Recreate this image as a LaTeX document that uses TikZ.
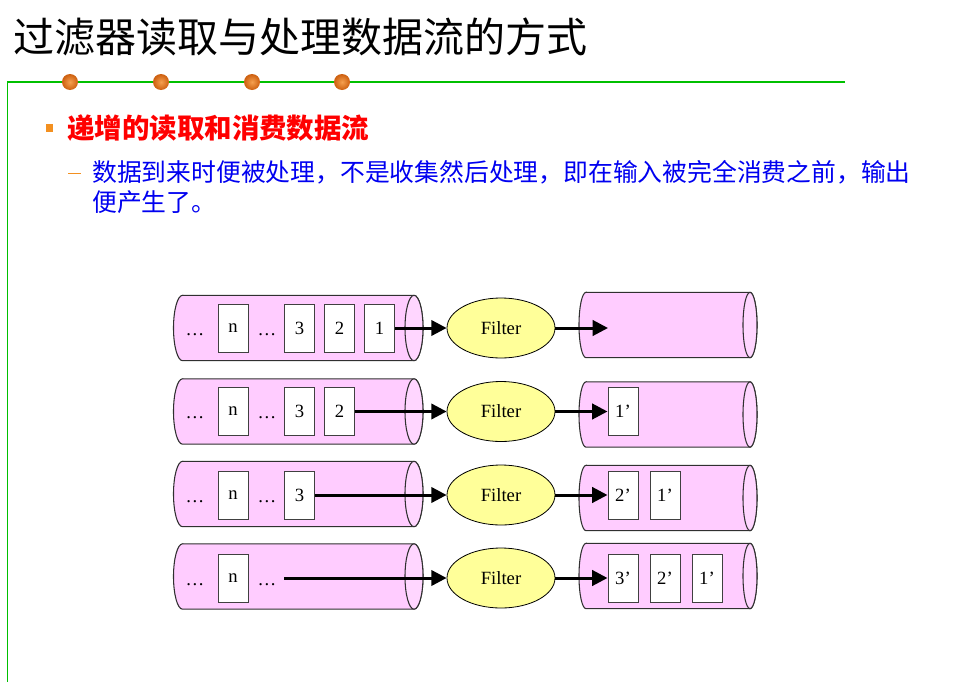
\documentclass[tikz,border=0pt]{standalone}
\usepackage{fontspec}
\setmainfont{Liberation Serif}
\newfontfamily\cjk{Noto Sans CJK SC}
\usetikzlibrary{shapes.geometric,arrows.meta,calc}
\definecolor{pinkc}{HTML}{FFCCFF}
\definecolor{pinkend}{HTML}{FFD6FF}
\definecolor{yellowc}{HTML}{FFFF99}
\definecolor{greenc}{HTML}{00C000}
\definecolor{orangec}{HTML}{F39020}
\definecolor{bluec}{HTML}{0000F0}
\definecolor{cylline}{HTML}{303030}
\definecolor{boxline}{HTML}{404040}
% left-end centre, right-end centre, centre y, x radius (pt), y radius (pt)
\newcommand\mycyl[5]{%
  \path[cyl] (#1,#3) ++(0,-#5*4/3) -- ($(#2,#3)+(0,-#5*4/3)$)
     arc[start angle=90,end angle=-90,x radius=#4pt,y radius=#5pt]
     -- ($(#1,#3)+(0,#5*4/3)$)
     arc[start angle=270,end angle=90,x radius=#4pt,y radius=#5pt] -- cycle;
  \path[cyl,fill=pinkend] (#2,#3) ellipse[x radius=#4pt,y radius=#5pt];}
\begin{document}
\begin{tikzpicture}[x=0.75pt,y=-0.75pt,
  cyl/.style={fill=pinkc,draw=cylline,line width=0.8pt},
  box/.style={draw=boxline,fill=white,line width=0.75pt,minimum width=22.5pt,
    minimum height=36pt,inner sep=0pt,font=\fontsize{14}{14}\selectfont},
  dots/.style={anchor=base,inner sep=0pt,font=\fontsize{14}{14}\selectfont},
  filt/.style={ellipse,draw=black,fill=yellowc,line width=0.6pt,minimum width=81pt,
    minimum height=45pt,inner sep=0pt,font=\fontsize{14}{14}\selectfont},
  flow/.style={line width=2.25pt,-{Triangle[length=11.5pt,width=11.5pt]}},
  ball/.style={inner color={rgb,255:red,245;green,160;blue,80},
    outer color={rgb,255:red,205;green,95;blue,15}}]
\useasboundingbox (0,0) rectangle (965,682);

% frame lines
\draw[greenc,line width=1.1pt] (845,82) -- (7.5,82) -- (7.5,682);
\foreach \x in {70,161,252,342} \shade[ball] (\x,82) circle[radius=6pt];

% texts
\node[anchor=base west,inner sep=0pt,font=\cjk\fontsize{30.75}{30.75}\selectfont] (title) at (13,52) {过滤器读取与处理数据流的方式};
\fill[orangec] (45.7,124) rectangle (53.3,132);
\node[anchor=base west,inner sep=0pt,text=red,font=\cjk\bfseries\fontsize{20.6}{20.6}\selectfont] (head) at (67,138) {递增的读取和消费数据流};
\draw[orangec,line width=1.3pt] (68,173.5) -- (81,173.5);
\node[anchor=base west,inner sep=0pt,text=bluec,font=\cjk\fontsize{18.6}{18.6}\selectfont] (l1) at (92,181.5) {数据到来时便被处理，不是收集然后处理，即在输入被完全消费之前，输出};
\node[anchor=base west,inner sep=0pt,text=bluec,font=\cjk\fontsize{18.6}{18.6}\selectfont] (l2) at (92,211) {便产生了。};

% cylinders
\mycyl{182.5}{414}{328}{6.75}{24.5}
\mycyl{182.5}{414}{411.5}{6.75}{24.5}
\mycyl{182.5}{414}{494}{6.75}{24.5}
\mycyl{182.5}{414}{576.5}{6.75}{24.5}
\mycyl{586}{750}{325}{5.25}{24.5}
\mycyl{586}{750}{414.5}{5.25}{24.5}
\mycyl{586}{750}{498}{5.25}{24.5}
\mycyl{586}{750}{576}{5.25}{24.5}

% row 1
\node[dots] (d1a) at (195,335) {…};
\node[box] (n1) at (233,328) {n};
\node[dots] (d1b) at (267,335) {…};
\node[box] (a1) at (299.5,328) {3};
\node[box] (b1) at (339.5,328) {2};
\node[box] (c1) at (379.5,328) {1};
\node[filt] (f1) at (501,328) {Filter};
\coordinate (o1) at (608,328);
\draw[flow] (c1.east) -- (f1.west);
\draw[flow] (f1.east) -- (o1);

% row 2
\node[dots] (d2a) at (195,418.5) {…};
\node[box] (n2) at (233,411.5) {n};
\node[dots] (d2b) at (267,418.5) {…};
\node[box] (a2) at (299.5,411.5) {3};
\node[box] (b2) at (339.5,411.5) {2};
\node[filt] (f2) at (501,411.5) {Filter};
\node[box] (p21) at (623,411.5) {1’};
\draw[flow] (b2.east) -- (f2.west);
\draw[flow] (f2.east) -- (p21.west);

% row 3
\node[dots] (d3a) at (195,502) {…};
\node[box] (n3) at (233,495) {n};
\node[dots] (d3b) at (267,502) {…};
\node[box] (a3) at (299.5,495) {3};
\node[filt] (f3) at (501,495) {Filter};
\node[box] (p32) at (623,495) {2’};
\node[box] (p31) at (665,495) {1’};
\draw[flow] (a3.east) -- (f3.west);
\draw[flow] (f3.east) -- (p32.west);

% row 4
\node[dots] (d4a) at (195,585) {…};
\node[box] (n4) at (233,578) {n};
\node[dots] (d4b) at (267,585) {…};
\coordinate (s4) at (284,578);
\node[filt] (f4) at (501,578) {Filter};
\node[box] (p43) at (623,578) {3’};
\node[box] (p42) at (665,578) {2’};
\node[box] (p41) at (707,578) {1’};
\draw[flow] (s4) -- (f4.west);
\draw[flow] (f4.east) -- (p43.west);
\end{tikzpicture}
\end{document}
